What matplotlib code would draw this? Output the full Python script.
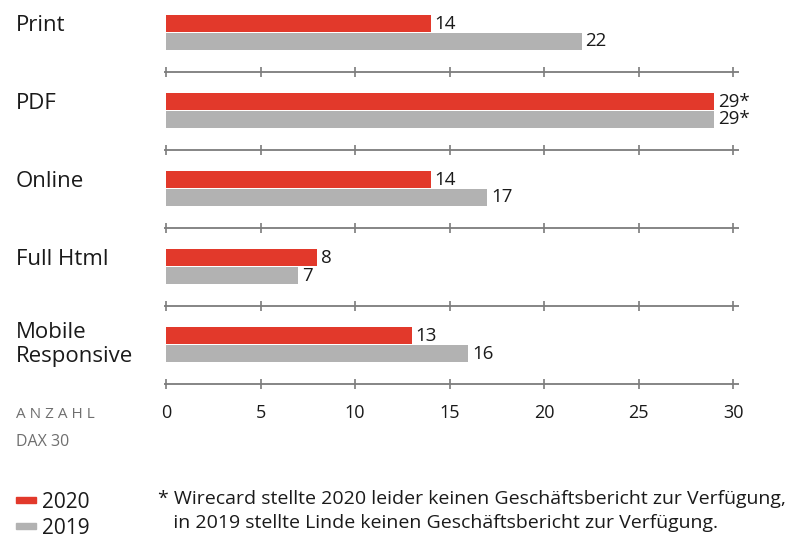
import matplotlib
matplotlib.use("Agg")
import matplotlib.pyplot as plt
from matplotlib.patches import Rectangle

categories = ["Print", "PDF", "Online", "Full Html", "Mobile\nResponsive"]
values_2020 = [14, 29, 14, 8, 13]
values_2019 = [22, 29, 17, 7, 16]
labels_2020 = ["14", "29*", "14", "8", "13"]
labels_2019 = ["22", "29*", "17", "7", "16"]
xticks = [0, 5, 10, 15, 20, 25, 30]
series_names = ["2020", "2019"]
footnote = ("* Wirecard stellte 2020 leider keinen Geschäftsbericht zur Verfügung,\n"
            "   in 2019 stellte Linde keinen Geschäftsbericht zur Verfügung.")

RED = "#e2392b"
GRAY = "#b2b2b2"
LINE = "#7c7c7c"
FONT = "Open Sans"
plt.rcParams['font.family'] = [FONT, 'DejaVu Sans']

W, H = 794, 534
fig = plt.figure(figsize=(W / 100, H / 100), dpi=100)
ax = fig.add_axes([166 / W, (H - 384) / H, 567 / W, 384 / H])
ax.set_xlim(0, 30)
ax.set_ylim(4.506, -0.417)
ax.axis("off")

bh = 0.225
off = 0.115
for i, (a, b) in enumerate(zip(values_2020, values_2019)):
    ax.barh(i - off, a, height=bh, color=RED, align="center")
    ax.barh(i + off, b, height=bh, color=GRAY, align="center")
    ax.text(a + 0.2, i - off, labels_2020[i], va="center", ha="left",
            fontsize=13.5, color="#1a1a1a")
    ax.text(b + 0.2, i + off, labels_2019[i], va="center", ha="left",
            fontsize=13.5, color="#1a1a1a")

# separator lines with ticks
line_ys = [i + 0.51 for i in range(len(categories) - 1)] + [4.506]
for y in line_ys:
    ax.plot([-0.1, 30.3], [y, y], color=LINE, lw=1.3, clip_on=False,
            solid_capstyle="butt")
    ax.plot(xticks, [y] * len(xticks), linestyle="", marker="|",
            markersize=7, mew=1.2, color=LINE, clip_on=False)

for t in xticks:
    fig.text((166 + t * 567 / 30) / W, 1 - 413 / H, str(t), ha="center",
             va="center", fontsize=13, color="#1a1a1a")

# category labels
for i, c in enumerate(categories):
    y_px = 32.5 + 78 * i - (0 if "\n" in c else 7)
    fig.text(16 / W, 1 - y_px / H, c, ha="left", va="center", fontsize=16,
             color="#1a1a1a", linespacing=1.2)

fig.text(16 / W, 1 - 414 / H, "A N Z A H L", ha="left", va="center",
         fontsize=11, color="#6f6f6f")
fig.text(16 / W, 1 - 442 / H, "DAX 30", ha="left", va="center",
         fontsize=11.5, color="#6f6f6f")

# legend
for k, (name, col) in enumerate(zip(series_names, [RED, GRAY])):
    y_px = 500 + 26 * k
    fig.patches.append(Rectangle((16 / W, 1 - (y_px + 3) / H), 20 / W, 6 / H,
                                 transform=fig.transFigure, color=col))
    fig.text(42 / W, 1 - (y_px + 3) / H, name, ha="left", va="center",
             fontsize=15, color="#1a1a1a")

fig.text(158 / W, 1 - 511 / H, footnote, ha="left", va="center",
         fontsize=14, color="#1a1a1a", linespacing=1.4)

fig.savefig("out.png", dpi=100)
